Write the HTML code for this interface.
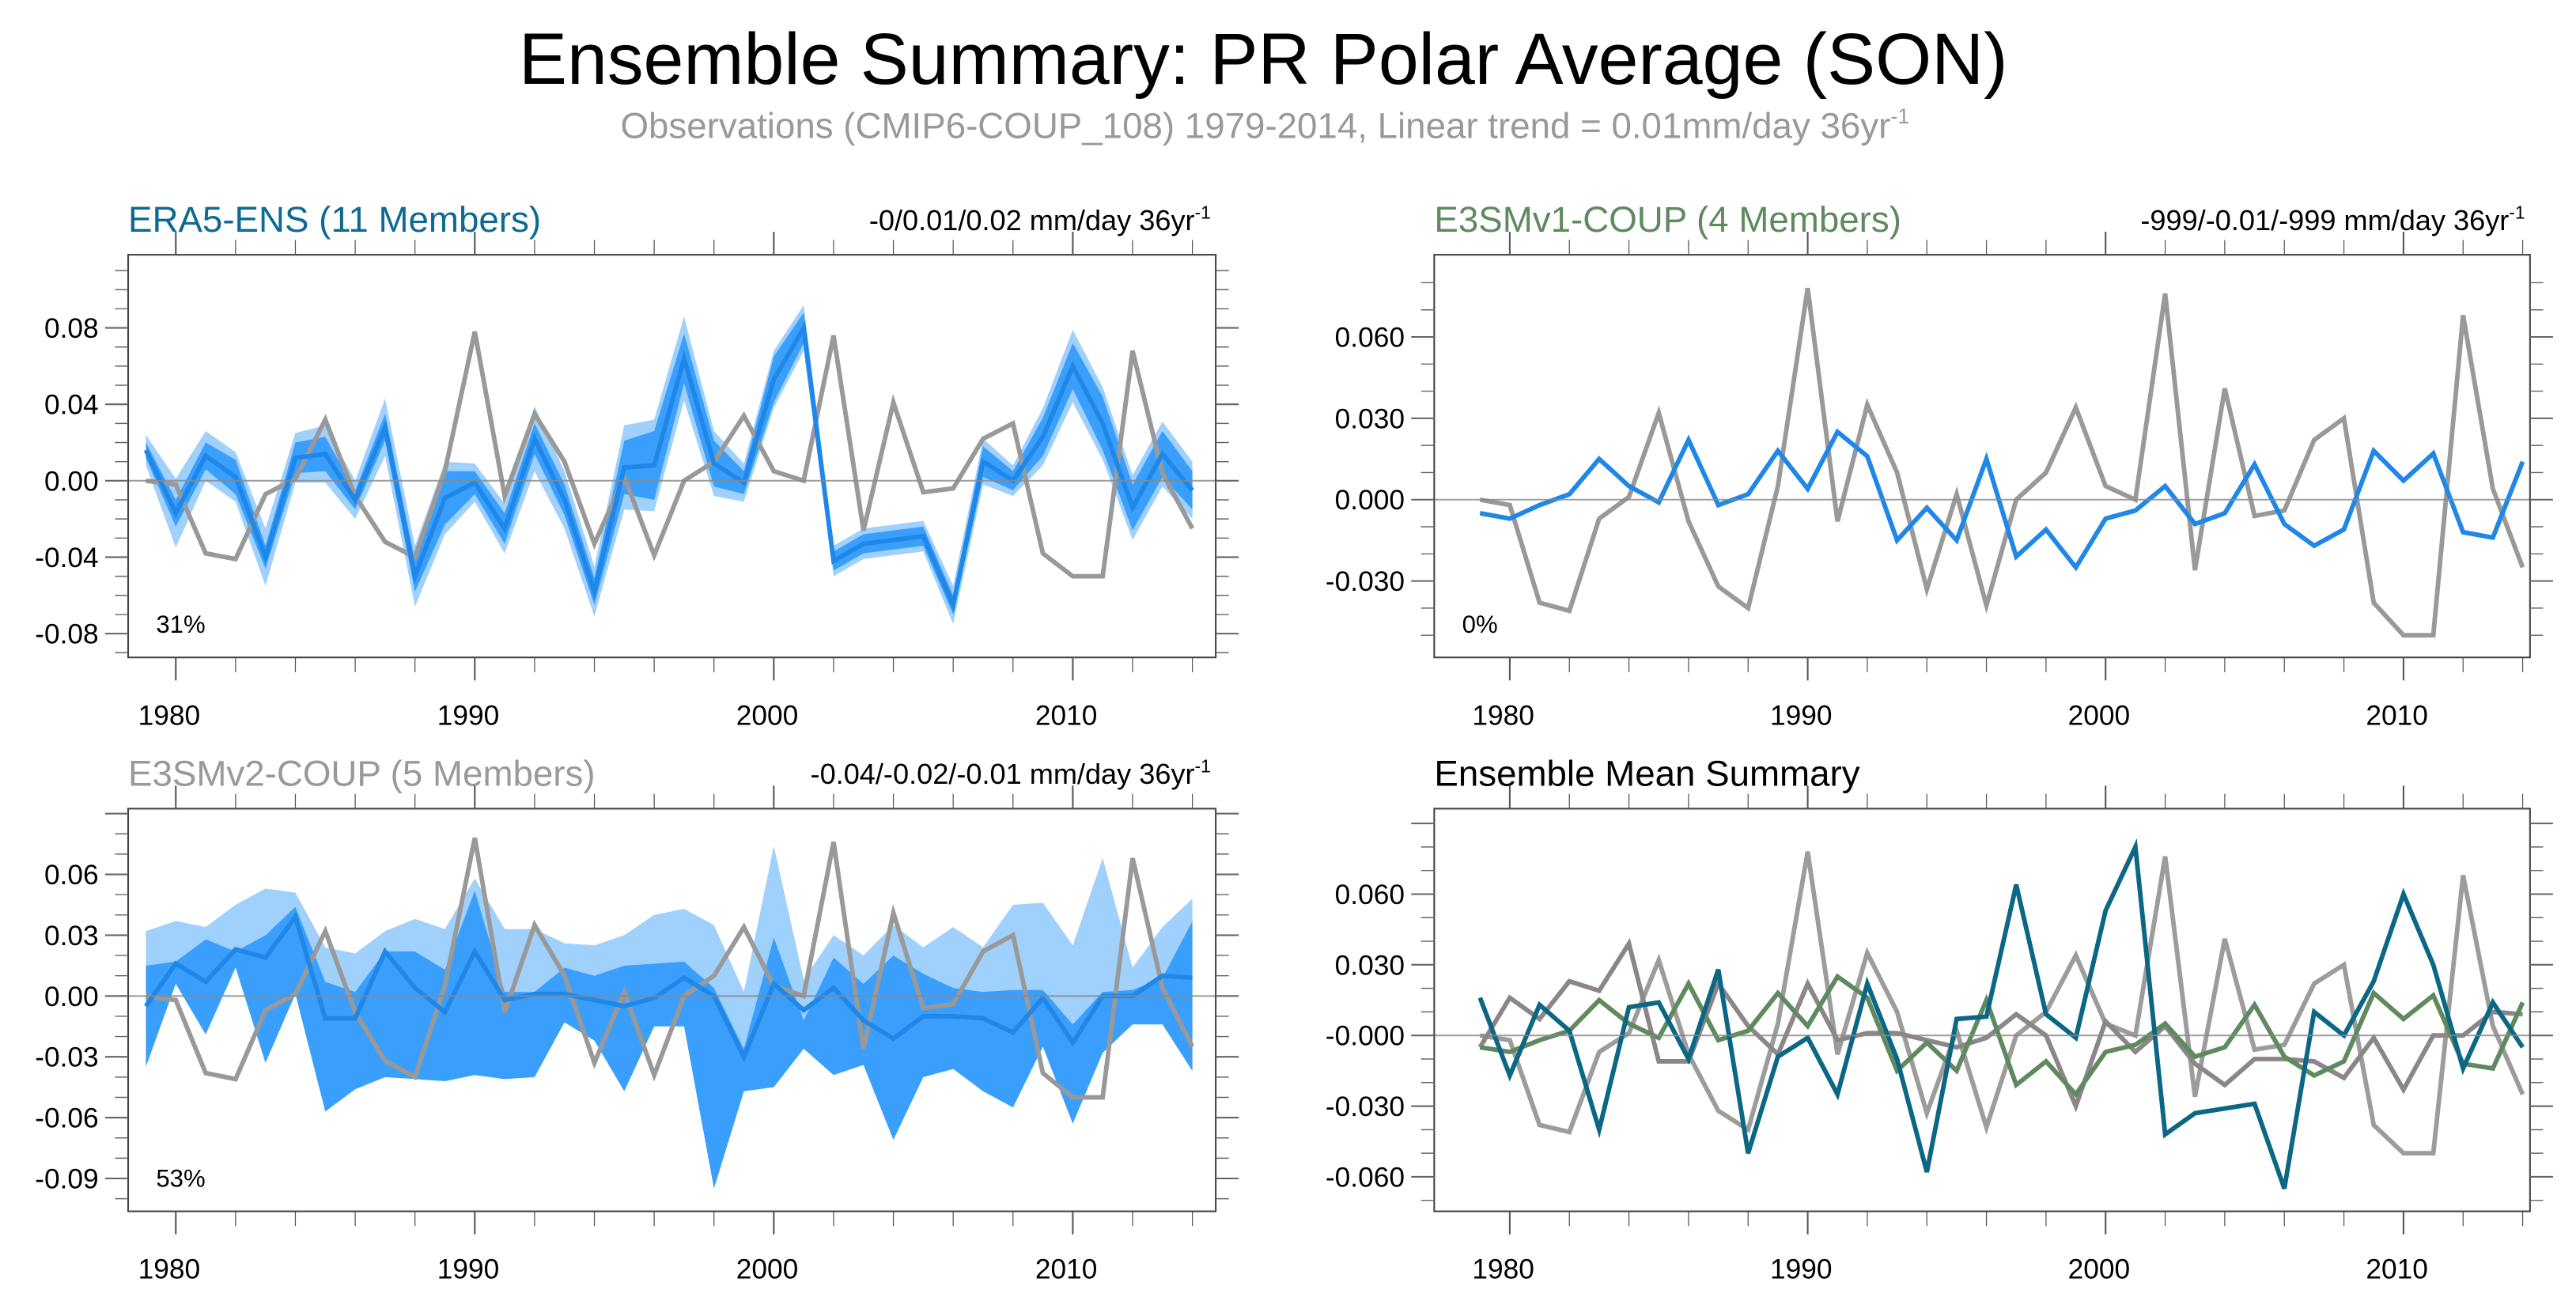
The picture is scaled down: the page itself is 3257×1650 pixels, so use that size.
<!DOCTYPE html>
<html><head><meta charset="utf-8">
<style>
html,body{margin:0;padding:0;background:#fff;}
svg{display:block;font-family:"Liberation Sans",sans-serif;}
</style></head>
<body>
<svg id="chart" width="3257" height="1650" viewBox="0 0 1568 794" preserveAspectRatio="none" xmlns="http://www.w3.org/2000/svg">
<rect width="1568" height="794" fill="#fff"/>
<text x="769" y="51" text-anchor="middle" font-size="44" fill="#000">Ensemble Summary: PR Polar Average (SON)</text>
<text x="770" y="84" text-anchor="middle" font-size="22" fill="#999">Observations (CMIP6-COUP_108) 1979-2014, Linear trend = 0.01mm/day 36yr<tspan font-size="13" dy="-9">-1</tspan></text>
<g id="panels"></g>
</svg>
<script>
const years=[];for(let y=1979;y<=2014;y++)years.push(y);
const obs=[0.000,-0.002,-0.038,-0.041,-0.007,0.001,0.032,-0.008,-0.032,-0.040,0.005,0.078,-0.008,0.035,0.010,-0.033,0.002,-0.039,0.000,0.010,0.034,0.005,0.000,0.076,-0.026,0.041,-0.006,-0.004,0.022,0.030,-0.038,-0.050,-0.050,0.068,0.004,-0.025];
const era5Mean=[0.016,-0.017,0.013,0.002,-0.040,0.012,0.014,-0.010,0.028,-0.050,-0.009,-0.001,-0.025,0.022,-0.010,-0.058,0.007,0.008,0.064,0.009,-0.001,0.053,0.080,-0.042,-0.033,-0.031,-0.029,-0.065,0.010,0.000,0.023,0.060,0.030,-0.014,0.014,-0.005];
const era5Inner=[0.004,0.007,0.007,0.009,0.006,0.008,0.009,0.005,0.007,0.008,0.014,0.006,0.008,0.008,0.008,0.007,0.014,0.018,0.013,0.012,0.006,0.012,0.008,0.005,0.005,0.005,0.005,0.005,0.008,0.005,0.010,0.012,0.014,0.012,0.012,0.010];
const era5Outer=[0.008,0.018,0.013,0.013,0.015,0.013,0.015,0.010,0.015,0.016,0.019,0.010,0.013,0.017,0.015,0.013,0.022,0.024,0.022,0.017,0.010,0.015,0.012,0.008,0.008,0.008,0.008,0.010,0.012,0.008,0.015,0.019,0.019,0.017,0.017,0.015];
const v1Mean=[-0.005,-0.007,-0.002,0.002,0.015,0.005,-0.001,0.022,-0.002,0.002,0.018,0.004,0.025,0.016,-0.015,-0.003,-0.015,0.015,-0.021,-0.011,-0.025,-0.007,-0.004,0.005,-0.009,-0.005,0.013,-0.009,-0.017,-0.011,0.018,0.007,0.017,-0.012,-0.014,0.014];
const v2Mean=[-0.005,0.016,0.007,0.023,0.019,0.039,-0.011,-0.011,0.022,0.004,-0.008,0.022,-0.002,0.001,0.001,-0.002,-0.005,-0.001,0.009,0.000,-0.030,0.006,-0.007,0.004,-0.012,-0.021,-0.010,-0.010,-0.011,-0.018,-0.001,-0.023,0.000,0.000,0.010,0.009];
const v2LightHi=[0.032,0.037,0.034,0.045,0.053,0.051,0.024,0.021,0.032,0.038,0.033,0.058,0.033,0.033,0.026,0.025,0.030,0.040,0.043,0.035,0.002,0.074,0.008,0.030,0.020,0.035,0.024,0.034,0.024,0.045,0.046,0.025,0.068,0.014,0.034,0.048];
const v2DarkHi=[0.015,0.017,0.028,0.022,0.030,0.044,0.007,0.002,0.022,0.022,0.013,0.052,0.002,0.002,0.014,0.010,0.015,0.016,0.017,0.004,-0.026,0.029,-0.012,0.019,0.006,0.020,0.011,0.004,0.002,0.003,0.003,-0.014,0.002,0.003,0.009,0.037];
const v2DarkLo=[-0.035,0.006,-0.019,0.014,-0.033,0.001,-0.057,-0.046,-0.040,-0.041,-0.042,-0.039,-0.041,-0.040,-0.013,-0.022,-0.047,-0.015,-0.015,-0.095,-0.047,-0.045,-0.026,-0.039,-0.034,-0.071,-0.040,-0.036,-0.047,-0.055,-0.025,-0.063,-0.028,-0.014,-0.014,-0.037];

const NS='http://www.w3.org/2000/svg';
const root=document.getElementById('panels');
function mk(tag,attrs,parent){const e=document.createElementNS(NS,tag);for(const k in attrs)e.setAttribute(k,attrs[k]);(parent||root).appendChild(e);return e;}

function panel(cfg){
  const g=mk('g',{});
  
  
  const L=cfg.x0,R=cfg.x1,T=cfg.y0,B=cfg.y1;
  const xs=y=>cfg.xa+(y-1980)*(cfg.xb-cfg.xa)/30;
  const ys=v=>cfg.zero-(v)*cfg.pxPer;
  const line=(arr,color,w)=>{const d=arr.map((v,i)=>(i?'L':'M')+xs(years[i]).toFixed(2)+','+ys(v).toFixed(2)).join('');return mk('path',{d:d,fill:'none',stroke:color,'stroke-width':w,'stroke-linejoin':'miter'},g);};
  const band=(lo,hi,color)=>{let d='';years.forEach((y,i)=>{d+=(i?'L':'M')+xs(y).toFixed(2)+','+ys(hi[i]).toFixed(2);});for(let i=years.length-1;i>=0;i--)d+='L'+xs(years[i]).toFixed(2)+','+ys(lo[i]).toFixed(2);d+='Z';return mk('path',{d:d,fill:color,stroke:'none'},g);};
  const t=mk('text',{x:L,y:T-14,'font-size':22,fill:cfg.titleColor},g);t.textContent=cfg.title;
  
  
  if(cfg.trend){const tr=mk('text',{x:R-3,y:T-15,'text-anchor':'end','font-size':17.4,fill:'#000'},g);tr.innerHTML=cfg.trend+' mm/day 36yr<tspan font-size="11" dy="-7">-1</tspan>';
    
    }
  cfg.draw({band,line,xs,ys,g});
  const z=mk('line',{x1:L,x2:R,y1:ys(0),y2:ys(0),stroke:'#888','stroke-width':1,'stroke-opacity':0.8},g);
  
  
  const fr=mk('rect',{x:L,y:T,width:R-L,height:B-T,fill:'none',stroke:'#444','stroke-width':1},g);
  
  
  for(let y=1980;y<=2014;y+=2){const maj=(y%10===0);const X=xs(y);const len=maj?14:9;
    mk('line',{x1:X,x2:X,y1:T,y2:T-len,stroke:'#555','stroke-width':maj?1:0.6},g);
    mk('line',{x1:X,x2:X,y1:B,y2:B+len,stroke:'#555','stroke-width':maj?1:0.6},g);
    if(maj){const tl=mk('text',{x:X-4,y:B+41,'text-anchor':'middle','font-size':17,fill:'#000'},g);tl.textContent=y;
      
      }}
  for(let k=-20;k<=20;k++){const v=k*cfg.minor;const Y=ys(v);if(Y<T+2||Y>B-2)continue;
    const maj=Math.abs((v/cfg.major)-Math.round(v/cfg.major))<1e-6;const len=maj?14:8;
    mk('line',{x1:L,x2:L-len,y1:Y,y2:Y,stroke:'#666','stroke-width':maj?1:0.7},g);
    mk('line',{x1:R,x2:R+len,y1:Y,y2:Y,stroke:'#666','stroke-width':maj?1:0.7},g);
    if(maj && v<=cfg.ymax+1e-9){let s=v.toFixed(cfg.dec);if(Math.abs(v)<1e-9)s=cfg.zeroLabel;
      const yl=mk('text',{x:L-18,y:Y+6,'text-anchor':'end','font-size':17,fill:'#000'},g);yl.textContent=s;
      
      }}
  if(cfg.pct){const p=mk('text',{x:L+17,y:B-15,'font-size':15,fill:'#000'},g);p.textContent=cfg.pct;
    
    }
}

panel({name:'era5-panel',x0:78,x1:740,y0:155,y1:400,xa:107,xb:653,zero:292.5,pxPer:46.5/0.04,major:0.04,minor:0.01,dec:2,zeroLabel:'0.00',ymax:0.08,
  title:'ERA5-ENS (11 Members)',titleColor:'#0d6a92',trend:'-0/0.01/0.02',pct:'31%',
  draw:({band,line})=>{band(era5Mean.map((v,i)=>v-era5Outer[i]),era5Mean.map((v,i)=>v+era5Outer[i]),'#a0d0fc');
    band(era5Mean.map((v,i)=>v-era5Inner[i]),era5Mean.map((v,i)=>v+era5Inner[i]),'#3a9ffc');
    line(obs,'#999',2.8);line(era5Mean,'#1f87e8',2.8);}});
panel({name:'e3smv1-panel',x0:873,x1:1540,y0:155,y1:400,xa:919,xb:1463,zero:304,pxPer:49.5/0.03,major:0.03,minor:0.01,dec:3,zeroLabel:'0.000',ymax:0.06,
  title:'E3SMv1-COUP (4 Members)',titleColor:'#5e8a5e',trend:'-999/-0.01/-999',pct:'0%',
  draw:({line})=>{line(obs,'#999',2.8);line(v1Mean,'#1f87e8',2.8);}});
panel({name:'e3smv2-panel',x0:78,x1:740,y0:492,y1:737,xa:107,xb:653,zero:606,pxPer:37/0.03,major:0.03,minor:0.01,dec:2,zeroLabel:'0.00',ymax:0.06,
  title:'E3SMv2-COUP (5 Members)',titleColor:'#999',trend:'-0.04/-0.02/-0.01',pct:'53%',
  draw:({band,line})=>{band(v2DarkHi,v2LightHi,'#a0d0fc');band(v2DarkLo,v2DarkHi,'#3a9ffc');
    line(obs,'#999',2.8);line(v2Mean,'#1f87e8',2.8);}});
panel({name:'ensemble-mean-panel',x0:873,x1:1540,y0:492,y1:737,xa:919,xb:1463,zero:630,pxPer:43/0.03,major:0.03,minor:0.01,dec:3,zeroLabel:'-0.000',ymax:0.06,
  title:'Ensemble Mean Summary',titleColor:'#000',trend:null,pct:null,
  draw:({line})=>{line(obs,'#9c9c9c',2.8);line(v2Mean,'#8c8589',2.8);line(v1Mean,'#5f8a5f',2.8);line(era5Mean,'#0b6784',2.8);}});
</script>
</body></html>
